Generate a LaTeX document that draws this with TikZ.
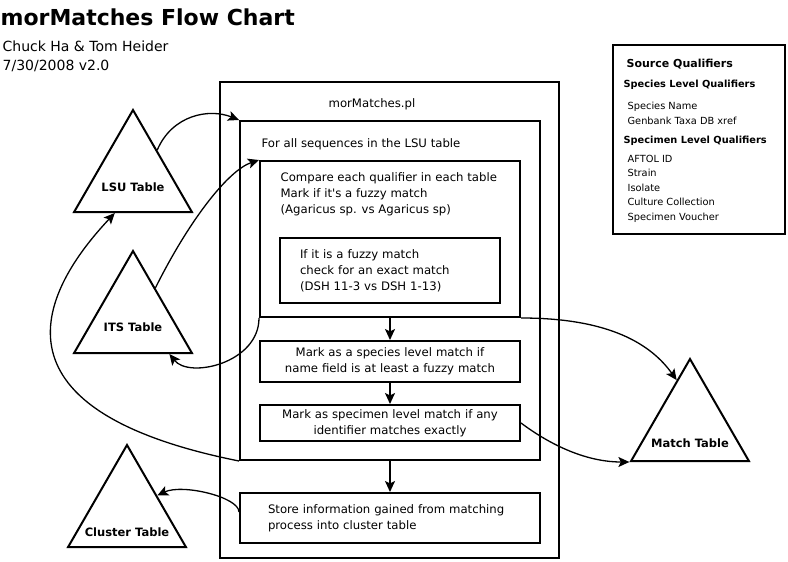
\documentclass[tikz,border=0pt]{standalone}
\usepackage{fontspec}
\setmainfont{DejaVu Sans}[Ligatures=TeXOff]
\usetikzlibrary{calc,shapes.geometric,arrows.meta}

\begin{document}
\begin{tikzpicture}[->,>={Stealth[length=11pt,width=10pt,inset=2.5pt]},line width=1.3pt,
                    x=1pt,y=-1pt]
  \tikzstyle{box}=[draw,line width=2pt,inner sep=0pt]
  \tikzstyle{tbl}=[draw,line width=2pt,regular polygon,regular polygon sides=3,
                   minimum size=136pt,inner sep=0pt,label distance=0pt]
  \tikzstyle{txt}=[inner sep=0pt,font=\fontsize{11.7}{16}\selectfont]
  \tikzstyle{qtxt}=[inner sep=0pt,align=left,font=\fontsize{9.8}{14.5}\selectfont]
  \tikzstyle{tlabel}=[font=\fontsize{11.5}{13}\selectfont\bfseries]

  \useasboundingbox (0,0) rectangle (788,562);

  % heading
  \node[anchor=base west,inner sep=0pt,font=\fontsize{22}{26}\selectfont\bfseries] (title) at (0,25) {morMatches Flow Chart};
  \node[anchor=base west,inner sep=0pt,font=\fontsize{14}{16}\selectfont] (authors) at (2,51) {Chuck Ha \& Tom Heider};
  \node[anchor=base west,inner sep=0pt,font=\fontsize{14}{16}\selectfont] (date) at (2,70) {7/30/2008 v2.0};

  % tables
  \node[tbl,label={[tlabel,yshift=-9pt]center:LSU Table}]      (lsu)     at (133,178) {};
  \node[tbl,label={[tlabel,yshift=-8pt]center:ITS Table}]      (its)     at (133,319) {};
  \node[tbl,label={[tlabel,yshift=-16pt]center:Match Table}]   (match)   at (690,427) {};
  \node[tbl,label={[tlabel,yshift=-19pt]center:Cluster Table}] (cluster) at (127,513) {};

  % script boxes
  \node[box,minimum width=339,minimum height=476] (mor)     at (389.5,320) {};
  \node[box,minimum width=300,minimum height=339] (forall)  at (390,290.5) {};
  \node[box,minimum width=260,minimum height=156] (compare) at (390,239) {};
  \node[box,txt,align=left,text width=180,inner xsep=20,minimum height=65] (fuzzy) at (390,270.5)
       {If it is a fuzzy match\\check for an exact match\\(DSH 11-3 vs DSH 1-13)};
  \node[box,txt,align=center,text width=260,minimum height=41] (species) at (390,361.5)
       {Mark as a species level match if\\name field is at least a fuzzy match};
  \node[box,txt,align=center,text width=260,minimum height=36] (specimen) at (390,423)
       {Mark as specimen level match if any\\identifier matches exactly};
  \node[box,txt,align=left,text width=244,inner xsep=28,minimum height=50] (store) at (390,518)
       {Store information gained from matching\\process into cluster table};

  \node[txt] (mortext) at (372,104) {morMatches.pl};
  \node[txt,anchor=base west] (foralltext) at (261,147.5) {For all sequences in the LSU table};
  \node[txt,anchor=north west,align=left] (comparetext) at (280,172.3)
       {Compare each qualifier in each table\\Mark if it's a fuzzy match\\(Agaricus sp. vs Agaricus sp)};

  % qualifier legend
  \node[box,minimum width=172,minimum height=189] (qual) at (699,139.5) {};
  \node[anchor=base west,inner sep=0pt,font=\fontsize{11}{13}\selectfont\bfseries] (qualhead) at (626,67) {Source Qualifiers};
  \node[anchor=base west,inner sep=0pt,font=\fontsize{9.8}{12}\selectfont\bfseries] (spechead) at (623,87.5) {Species Level Qualifiers};
  \node[qtxt,anchor=north west] (speclist) at (627,101.5) {Species Name\\Genbank Taxa DB xref};
  \node[anchor=base west,inner sep=0pt,font=\fontsize{9.8}{12}\selectfont\bfseries] (specimenhead) at (623,143.5) {Specimen Level Qualifiers};
  \node[qtxt,anchor=north west] (specimenlist) at (627,154.5)
       {AFTOL ID\\Strain\\Isolate\\Culture Collection\\Specimen Voucher};

  % flow
  \path[line width=1.8pt] (compare.south) edge (species.north)
        (species.south) edge (specimen.north)
        (forall.south) edge (store.north);

  \draw ($(lsu.corner 1)!0.4!(lsu.corner 3)$) .. controls +(15,-35) and +(-30,-12) .. (forall.north west);
  \draw ($(its.corner 1)!0.37!(its.corner 3)$) .. controls +(35,-70) and +(-30,10) .. (compare.north west);
  \draw (compare.south west) .. controls +(0,45) and +(20,25) .. ($(its.corner 2)!0.8!(its.corner 3)$);
  \draw (forall.south west) .. controls +(-250,-50) and +(-80,85) .. ($(lsu.corner 2)!0.35!(lsu.corner 3)$);
  \draw (compare.south east) .. controls +(90,0) and +(-25,-35) .. ($(match.corner 1)!0.22!(match.corner 2)$);
  \draw (specimen.east) .. controls +(20,15) and +(-50,0) .. (match.corner 2);
  \draw ([yshift=6pt]store.west) .. controls +(0,-15) and +(25,-12) .. ($(cluster.corner 1)!0.5!(cluster.corner 3)$);
\end{tikzpicture}
\end{document}
